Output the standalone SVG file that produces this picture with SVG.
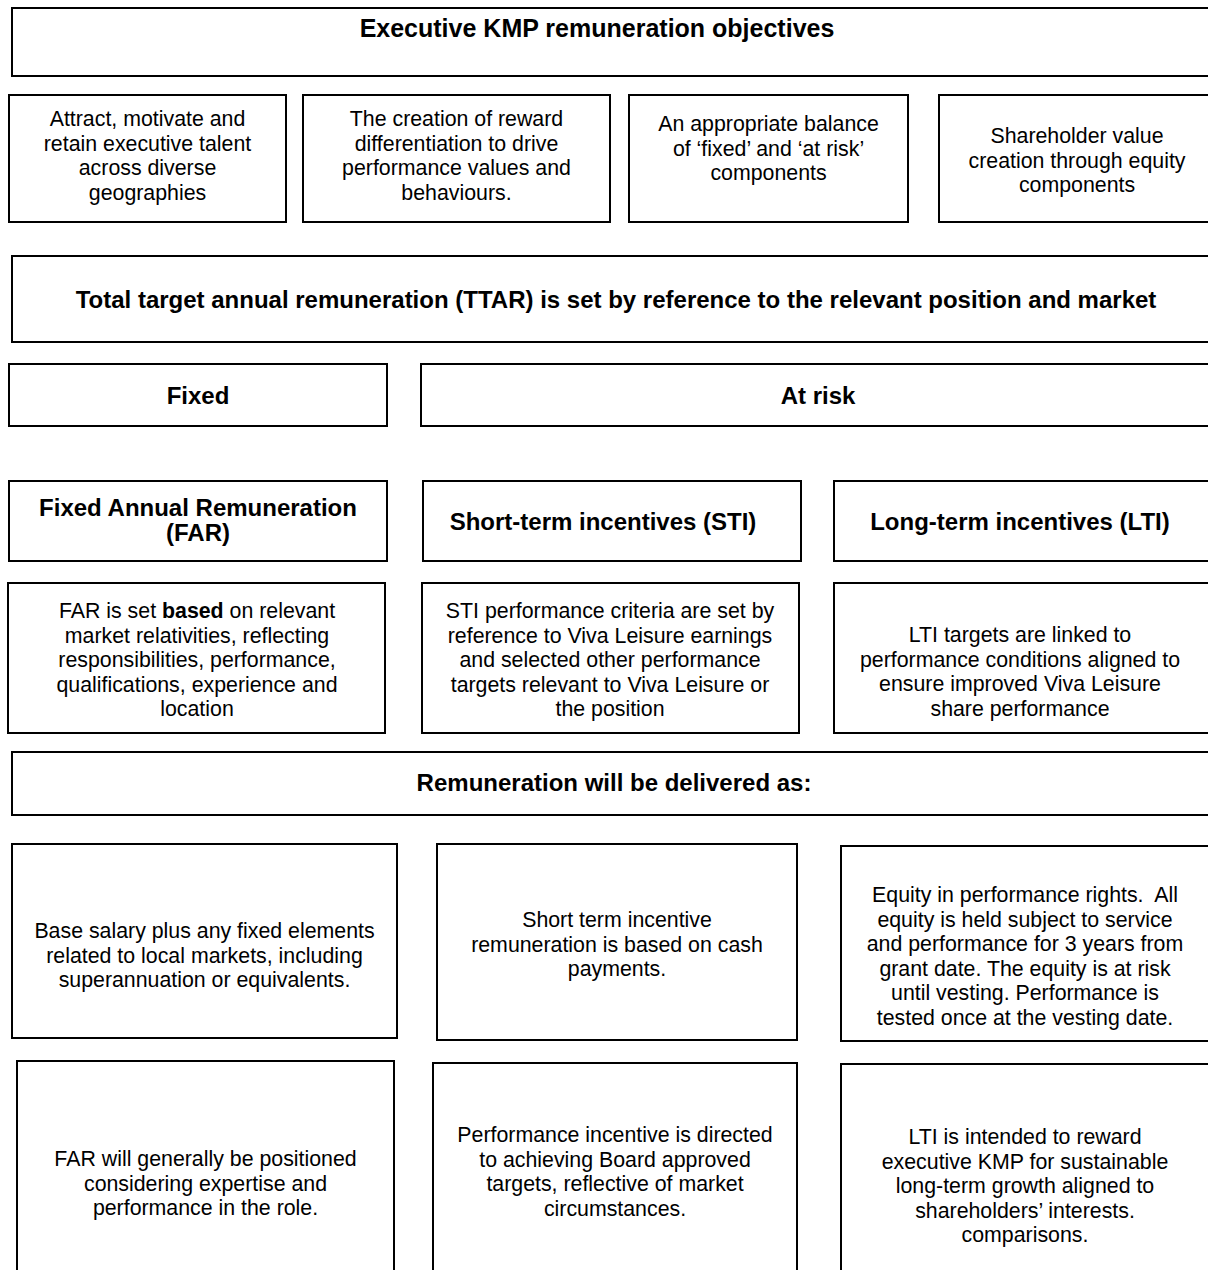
<svg xmlns="http://www.w3.org/2000/svg" width="1208" height="1270" viewBox="0 0 1208 1270">
<style>
.box{fill:#fff;stroke:#000;stroke-width:2}
text{font-family:"Liberation Sans",Arial,sans-serif;fill:#000;text-anchor:middle}
.b{font-size:21.33px}
.h{font-size:24px;font-weight:bold}
.t{font-size:25px;font-weight:bold}
</style>
<rect width="1208" height="1270" fill="#fff"/>
<g id="title"><rect class="box" x="12" y="8" width="1206" height="68"/><text class="t" x="597" y="37">Executive KMP remuneration objectives</text></g>
<g id="obj1"><rect class="box" x="9" y="95" width="277" height="127"/><text class="b"><tspan x="147.5" y="126">Attract, motivate and</tspan><tspan x="147.5" y="150.5">retain executive talent</tspan><tspan x="147.5" y="175">across diverse</tspan><tspan x="147.5" y="199.5">geographies</tspan></text></g>
<g id="obj2"><rect class="box" x="303" y="95" width="307" height="127"/><text class="b"><tspan x="456.5" y="126">The creation of reward</tspan><tspan x="456.5" y="150.5">differentiation to drive</tspan><tspan x="456.5" y="175">performance values and</tspan><tspan x="456.5" y="199.5">behaviours.</tspan></text></g>
<g id="obj3"><rect class="box" x="629" y="95" width="279" height="127"/><text class="b"><tspan x="768.5" y="131">An appropriate balance</tspan><tspan x="768.5" y="155.5">of ‘fixed’ and ‘at risk’</tspan><tspan x="768.5" y="180">components</tspan></text></g>
<g id="obj4"><rect class="box" x="939" y="95" width="279" height="127"/><text class="b"><tspan x="1077" y="143">Shareholder value</tspan><tspan x="1077" y="167.5">creation through equity</tspan><tspan x="1077" y="192">components</tspan></text></g>
<g id="ttar"><rect class="box" x="12" y="256" width="1206" height="86"/><text class="h" x="616" y="308">Total target annual remuneration (TTAR) is set by reference to the relevant position and market</text></g>
<g id="fixed"><rect class="box" x="9" y="364" width="378" height="62"/><text class="h" x="198" y="404">Fixed</text></g>
<g id="atrisk"><rect class="box" x="421" y="364" width="797" height="62"/><text class="h" x="818" y="404">At risk</text></g>
<g id="far"><rect class="box" x="9" y="481" width="378" height="80"/><text class="h"><tspan x="198" y="516">Fixed Annual Remuneration</tspan><tspan x="198" y="541">(FAR)</tspan></text></g>
<g id="sti"><rect class="box" x="423" y="481" width="378" height="80"/><text class="h" x="603" y="530">Short-term incentives (STI)</text></g>
<g id="lti"><rect class="box" x="834" y="481" width="384" height="80"/><text class="h" x="1020" y="530">Long-term incentives (LTI)</text></g>
<g id="far-body"><rect class="box" x="8" y="583" width="377" height="150"/><text class="b"><tspan x="197" y="618">FAR is set <tspan font-weight="bold">based</tspan> on relevant</tspan><tspan x="197" y="642.5">market relativities, reflecting</tspan><tspan x="197" y="667">responsibilities, performance,</tspan><tspan x="197" y="691.5">qualifications, experience and</tspan><tspan x="197" y="716">location</tspan></text></g>
<g id="sti-body"><rect class="box" x="422" y="583" width="377" height="150"/><text class="b"><tspan x="610" y="618">STI performance criteria are set by</tspan><tspan x="610" y="642.5">reference to Viva Leisure earnings</tspan><tspan x="610" y="667">and selected other performance</tspan><tspan x="610" y="691.5">targets relevant to Viva Leisure or</tspan><tspan x="610" y="716">the position</tspan></text></g>
<g id="lti-body"><rect class="box" x="834" y="583" width="384" height="150"/><text class="b"><tspan x="1020" y="642">LTI targets are linked to</tspan><tspan x="1020" y="666.5">performance conditions aligned to</tspan><tspan x="1020" y="691">ensure improved Viva Leisure</tspan><tspan x="1020" y="715.5">share performance</tspan></text></g>
<g id="delivered"><rect class="box" x="12" y="752" width="1206" height="63"/><text class="h" x="614" y="791">Remuneration will be delivered as:</text></g>
<g id="d-far1"><rect class="box" x="12" y="844" width="385" height="194"/><text class="b"><tspan x="204.5" y="938">Base salary plus any fixed elements</tspan><tspan x="204.5" y="962.5">related to local markets, including</tspan><tspan x="204.5" y="987">superannuation or equivalents.</tspan></text></g>
<g id="d-sti1"><rect class="box" x="437" y="844" width="360" height="196"/><text class="b"><tspan x="617" y="927">Short term incentive</tspan><tspan x="617" y="951.5">remuneration is based on cash</tspan><tspan x="617" y="976">payments.</tspan></text></g>
<g id="d-lti1"><rect class="box" x="841" y="846" width="377" height="195"/><text class="b" style="white-space:pre"><tspan x="1025" y="902">Equity in performance rights.  All</tspan><tspan x="1025" y="926.5">equity is held subject to service</tspan><tspan x="1025" y="951">and performance for 3 years from</tspan><tspan x="1025" y="975.5">grant date. The equity is at risk</tspan><tspan x="1025" y="1000">until vesting. Performance is</tspan><tspan x="1025" y="1024.5">tested once at the vesting date.</tspan></text></g>
<g id="d-far2"><rect class="box" x="17" y="1061" width="377" height="220"/><text class="b"><tspan x="205.5" y="1166">FAR will generally be positioned</tspan><tspan x="205.5" y="1190.5">considering expertise and</tspan><tspan x="205.5" y="1215">performance in the role.</tspan></text></g>
<g id="d-sti2"><rect class="box" x="433" y="1063" width="364" height="220"/><text class="b"><tspan x="615" y="1142">Performance incentive is directed</tspan><tspan x="615" y="1166.5">to achieving Board approved</tspan><tspan x="615" y="1191">targets, reflective of market</tspan><tspan x="615" y="1215.5">circumstances.</tspan></text></g>
<g id="d-lti2"><rect class="box" x="841" y="1064" width="377" height="220"/><text class="b"><tspan x="1025" y="1144">LTI is intended to reward</tspan><tspan x="1025" y="1168.5">executive KMP for sustainable</tspan><tspan x="1025" y="1193">long-term growth aligned to</tspan><tspan x="1025" y="1217.5">shareholders’ interests.</tspan><tspan x="1025" y="1242">comparisons.</tspan></text></g>
<g id="connectors"></g>
</svg>
